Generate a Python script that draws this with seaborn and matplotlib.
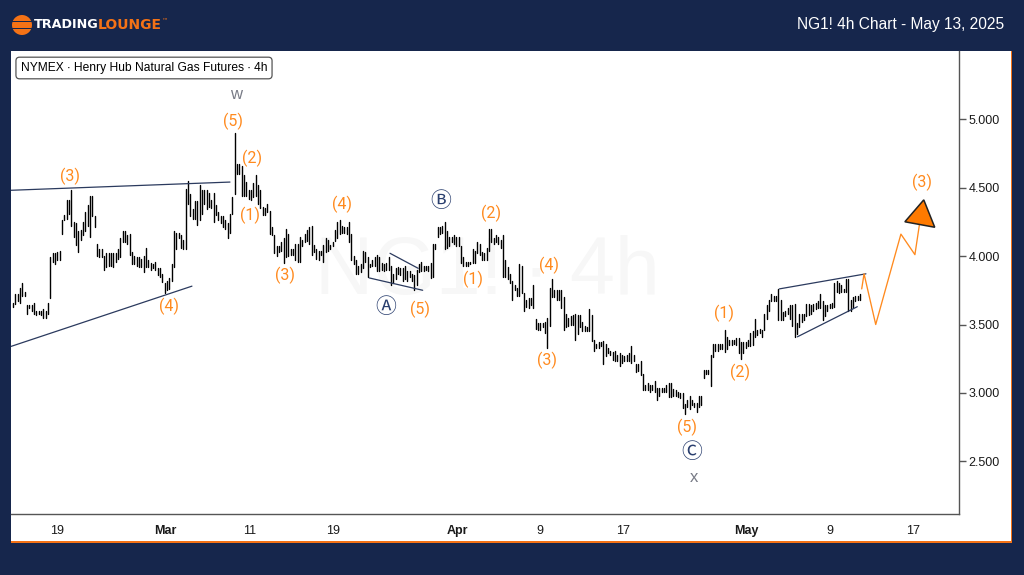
import seaborn as sns
import pandas as pd
import matplotlib
matplotlib.use('Agg')
import matplotlib.pyplot as plt
from matplotlib.patches import Rectangle, Circle

# 4h bars
bar_highs = [
    3.66, 3.72, 3.72, 3.77, 3.80, 3.74, 3.64, 3.64, 3.64, 3.66, 3.60, 3.60, 3.60, 3.61, 3.60, 3.66,
    3.99, 4.02, 4.02, 4.03, 4.04, 4.26, 4.30, 4.41, 4.41, 4.48, 4.25, 4.24, 4.18, 4.19, 4.25, 4.32,
    4.37, 4.44, 4.44, 4.29, 4.09, 4.05, 4.05, 4.00, 4.02, 4.02, 4.02, 4.02, 4.02, 4.05, 4.13, 4.18,
    4.18, 4.15, 4.16, 4.03, 4.00, 3.99, 3.99, 3.98, 4.00, 4.06, 3.97, 3.95, 3.94, 3.96,
    3.91, 3.91, 3.87, 3.80, 3.82, 3.84, 3.94, 4.18, 4.17, 4.17, 4.15, 4.12, 4.49, 4.55, 4.45, 4.34,
    4.40, 4.40, 4.52, 4.48, 4.48, 4.48, 4.46, 4.41, 4.46, 4.37, 4.32, 4.29, 4.29, 4.26, 4.24, 4.31, 4.43,
    4.90, 4.67, 4.67, 4.66, 4.59, 4.54, 4.48, 4.48, 4.53, 4.59, 4.52, 4.48, 4.36, 4.35, 4.38, 4.33,
    4.21, 4.15, 4.07, 4.07, 4.10, 4.13, 4.20, 4.16, 4.05, 4.05, 4.09, 4.09, 4.14, 4.12, 4.16, 4.19,
    4.21, 4.22, 4.08, 4.05, 4.04, 4.04, 4.08, 4.13, 4.12, 4.08, 4.10, 4.19, 4.25, 4.26, 4.22, 4.21,
    4.21, 4.25, 4.16, 4.00, 3.97, 3.93, 3.94, 4.04, 4.03, 3.99, 3.94, 3.97, 3.99, 4.01, 3.99, 3.95,
    3.94, 3.95, 3.99, 3.93, 3.87, 3.91, 3.92, 3.91, 3.91, 3.93, 3.89, 3.89, 3.87, 3.86, 3.90, 3.94, 3.96,
    3.93, 3.93, 3.93, 3.95, 4.09, 4.09, 4.21, 4.21, 4.22, 4.25,
    4.18, 4.14, 4.14, 4.15, 4.14, 4.14, 4.07, 3.99, 3.96, 3.96, 3.96, 4.05, 4.04, 4.10, 4.09, 4.03,
    4.02, 4.06, 4.20, 4.20, 4.13, 4.15, 4.14, 4.12, 4.15, 3.97, 3.92, 3.87, 3.82, 3.79, 3.77, 3.94, 3.93,
    3.73, 3.68, 3.69, 3.69, 3.79, 3.54, 3.51, 3.51, 3.51, 3.52, 3.55, 3.77, 3.83, 3.75, 3.75, 3.75,
    3.75, 3.70, 3.58, 3.55, 3.56, 3.57, 3.58, 3.57, 3.57, 3.52, 3.49, 3.48, 3.61, 3.57, 3.39, 3.36,
    3.37, 3.37, 3.38, 3.36, 3.33, 3.31, 3.30, 3.31, 3.28, 3.29, 3.28, 3.27, 3.28, 3.29, 3.34, 3.28,
    3.21, 3.21, 3.23, 3.14,
    3.06, 3.07, 3.06, 3.06, 3.09, 3.04, 3.04, 3.04, 3.04, 3.06, 3.07, 3.07, 3.03, 3.02, 3.01, 3.00,
    3.00, 2.92, 2.95, 2.98, 2.95, 2.93, 2.93, 2.98, 2.98, 3.17, 3.17, 3.17, 3.28, 3.36, 3.36, 3.36,
    3.36, 3.36, 3.46, 3.41, 3.39, 3.39, 3.39, 3.40, 3.40, 3.37, 3.37, 3.37, 3.39, 3.44, 3.45, 3.54,
    3.46, 3.47, 3.46,
    3.58, 3.64, 3.68, 3.72, 3.71, 3.71, 3.76, 3.68, 3.59, 3.60, 3.62, 3.64, 3.64, 3.65, 3.51, 3.58,
    3.58, 3.58, 3.65, 3.65, 3.64, 3.65, 3.66, 3.67, 3.72, 3.67, 3.64, 3.64, 3.65, 3.66, 3.80, 3.82,
    3.80, 3.79, 3.76, 3.83, 3.83, 3.68, 3.70, 3.71, 3.71, 3.72,
]
bar_lows = [
    3.63, 3.65, 3.67, 3.66, 3.71, 3.71, 3.58, 3.62, 3.60, 3.58, 3.57, 3.58, 3.57, 3.55, 3.55, 3.58,
    3.69, 3.96, 3.94, 3.97, 3.97, 4.16, 4.26, 4.27, 4.31, 4.22, 4.14, 4.08, 4.03, 4.12, 4.15, 4.18,
    4.22, 4.14, 4.29, 4.21, 4.00, 3.99, 3.99, 3.90, 3.92, 3.93, 3.93, 3.92, 3.96, 3.98, 3.99, 4.10,
    4.10, 4.09, 4.01, 3.94, 3.94, 3.93, 3.92, 3.92, 3.88, 3.92, 3.92, 3.90, 3.91, 3.90,
    3.86, 3.85, 3.81, 3.73, 3.75, 3.76, 3.82, 3.92, 4.05, 4.13, 4.06, 4.05, 4.05, 4.38, 4.29, 4.27,
    4.27, 4.23, 4.26, 4.31, 4.38, 4.34, 4.36, 4.35, 4.25, 4.30, 4.26, 4.24, 4.21, 4.20, 4.13, 4.17, 4.31,
    4.45, 4.60, 4.60, 4.44, 4.44, 4.44, 4.42, 4.41, 4.43, 4.44, 4.38, 4.35, 4.30, 4.30, 4.32, 4.16,
    4.15, 4.02, 4.00, 4.03, 4.04, 3.95, 3.99, 4.00, 4.01, 4.01, 3.97, 3.96, 3.96, 4.07, 4.10, 4.11,
    4.09, 4.01, 4.03, 3.98, 3.97, 4.01, 3.96, 4.03, 4.04, 4.05, 4.07, 4.11, 4.13, 4.16, 4.17, 4.17,
    4.16, 4.10, 3.97, 3.94, 3.87, 3.87, 3.88, 3.91, 3.96, 3.85, 3.92, 3.93, 3.93, 3.89, 3.89, 3.90,
    3.89, 3.90, 3.90, 3.79, 3.80, 3.83, 3.87, 3.86, 3.82, 3.83, 3.82, 3.85, 3.82, 3.75, 3.79, 3.88, 3.89,
    3.89, 3.90, 3.89, 3.84, 3.85, 4.05, 4.14, 4.16, 4.17, 4.05,
    4.06, 4.07, 4.10, 4.09, 4.07, 4.07, 3.95, 3.93, 3.93, 3.93, 3.94, 3.95, 3.95, 4.02, 4.01, 3.97,
    3.97, 3.97, 4.04, 4.10, 4.09, 4.10, 4.09, 4.06, 3.85, 3.85, 3.83, 3.80, 3.68, 3.75, 3.71, 3.71, 3.73,
    3.60, 3.63, 3.62, 3.64, 3.62, 3.47, 3.46, 3.46, 3.48, 3.44, 3.33, 3.49, 3.70, 3.70, 3.68, 3.68,
    3.62, 3.46, 3.48, 3.49, 3.50, 3.50, 3.39, 3.43, 3.48, 3.45, 3.45, 3.45, 3.45, 3.38, 3.31, 3.33,
    3.33, 3.34, 3.21, 3.27, 3.29, 3.28, 3.24, 3.23, 3.23, 3.20, 3.22, 3.23, 3.23, 3.23, 3.22, 3.23,
    3.15, 3.16, 3.13, 3.02,
    3.02, 3.02, 3.01, 3.02, 3.01, 2.95, 2.98, 3.01, 3.01, 3.01, 2.97, 2.97, 2.98, 2.98, 2.97, 2.96,
    2.89, 2.85, 2.90, 2.88, 2.91, 2.90, 2.86, 2.90, 2.91, 3.11, 3.14, 3.14, 3.05, 3.26, 3.31, 3.31,
    3.32, 3.32, 3.30, 3.32, 3.35, 3.35, 3.36, 3.35, 3.29, 3.25, 3.29, 3.33, 3.34, 3.34, 3.35, 3.41,
    3.42, 3.44, 3.41,
    3.46, 3.54, 3.60, 3.67, 3.67, 3.67, 3.53, 3.53, 3.53, 3.56, 3.58, 3.54, 3.49, 3.41, 3.43, 3.48,
    3.52, 3.53, 3.56, 3.57, 3.58, 3.60, 3.61, 3.62, 3.62, 3.53, 3.56, 3.60, 3.62, 3.62, 3.63, 3.74,
    3.73, 3.74, 3.74, 3.74, 3.60, 3.60, 3.63, 3.67, 3.68, 3.68,
]

y_ticks = [2.5, 3.0, 3.5, 4.0, 4.5, 5.0]
x_ticks = [18.9, 65.2, 101.6, 137.2, 190.3, 225.9, 261.5, 314.2, 350.2, 385.8]
x_labels = ['19', 'Mar', '11', '19', 'Apr', '9', '17', 'May', '9', '17']

# wave counts: text, bar, price
orange_labels = [
    ('(5)', 94.3, 4.98), ('(3)', 24.4, 4.58), ('(2)', 102.4, 4.71), ('(1)', 101.6, 4.30),
    ('(3)', 116.6, 3.86), ('(4)', 141, 4.38), ('(4)', 66.9, 3.63), ('(5)', 174.5, 3.61),
    ('(1)', 197.2, 3.83), ('(2)', 204.9, 4.31), ('(4)', 229.8, 3.93), ('(3)', 228.9, 3.24),
    ('(5)', 288.9, 2.75), ('(1)', 304.8, 3.58), ('(2)', 311.6, 3.15), ('(3)', 389.6, 4.54),
]
navy_labels = [('\u24b7', 183.5, 4.40), ('\u24b6', 159.9, 3.63), ('\u24b8', 291, 2.57)]
grey_labels = [('w', 95.6, 5.18), ('x', 291.9, 2.38)]

trend_lines = [
    ([-0.86, 93], [4.48, 4.54]),
    ([-0.86, 76.7], [3.34, 3.78]),
    ([161.6, 173.7], [4.02, 3.91]),
    ([152.7, 175.6], [3.84, 3.75]),
    ([328.5, 365.6], [3.76, 3.87]),
    ([336.2, 361.9], [3.41, 3.63]),
]
path_bars = [363.8, 364.8, 369.8, 380.6, 386.6, 388.5]
path_prices = [3.76, 3.87, 3.50, 4.16, 4.01, 4.225]
arrow_bars = [390.4, 382.3, 395.1]
arrow_prices = [4.41, 4.25, 4.21]

NAVY = '#16264c'
ORANGE = '#ff8a1e'
LINE = '#2b3a5e'
W, H = 1024, 575

sns.set_theme(style='white', rc={'axes.linewidth': 1.0, 'xtick.bottom': False, 'ytick.right': True})
plt.rcParams['font.family'] = ['Liberation Sans', 'DejaVu Sans']

fig = plt.figure(figsize=(W / 100, H / 100), dpi=100, facecolor=NAVY)
fig.patches.append(Rectangle((11 / W, 1 - 543 / H), 1001 / W, 492 / H, transform=fig.transFigure,
                             fc='white', ec='none', zorder=-2))
fig.patches.append(Rectangle((11 / W, 1 - 543 / H), 1001 / W, 2 / H, transform=fig.transFigure,
                             fc='#f47216', ec='none', zorder=-1))
fig.patches.append(Rectangle((1011 / W, 1 - 543 / H), 1 / W, 492 / H, transform=fig.transFigure,
                             fc='#f47216', ec='none', zorder=-1))

ax = fig.add_axes([11 / W, 1 - 513.5 / H, 948 / W, 462.5 / H], facecolor='none')

df = pd.DataFrame({
    'bar': list(range(len(bar_highs))) * 2,
    'price': bar_highs + bar_lows,
})
sns.lineplot(data=df, x='bar', y='price', units='bar', estimator=None, color='black',
             lw=1.0, legend=False, ax=ax, zorder=3)

for xs, ys in trend_lines:
    sns.lineplot(x=xs, y=ys, color=LINE, lw=0.9, estimator=None, sort=False, ax=ax, zorder=4)

sns.lineplot(x=path_bars, y=path_prices, color=ORANGE, lw=0.95, estimator=None, sort=False, ax=ax, zorder=4)
ax.fill(arrow_bars, arrow_prices, fc='#ff7a00', ec='#222222', lw=1.1, zorder=5)

for txt, xb, yp in orange_labels:
    ax.text(xb, yp, txt, color=ORANGE, fontsize=11.5, ha='center', va='center',
            family=['Roboto', 'DejaVu Sans'], zorder=6)
for txt, xb, yp in navy_labels:
    ax.text(xb, yp, txt, color='#2a3f6f', fontsize=15, ha='center', va='center',
            family=['Noto Sans CJK JP', 'DejaVu Sans'], zorder=6)
for txt, xb, yp in grey_labels:
    ax.text(xb, yp, txt, color='#787b86', fontsize=12, ha='center', va='center', zorder=6)

ax.text(0.502, 0.52, 'NG1! \u2219 4h', transform=ax.transAxes, color='#f7f7f7', fontsize=58,
        ha='center', va='center', family=['Liberation Sans', 'DejaVu Sans'], zorder=1)

ax.set_xlim(-0.86, 405.5)
ax.set_ylim(2.12, 5.497)
ax.set_xlabel('')
ax.set_ylabel('')
ax.yaxis.tick_right()
ax.set_yticks(y_ticks)
ax.set_yticklabels([f'{v:.3f}' for v in y_ticks])
ax.set_xticks(x_ticks)
ax.set_xticklabels(x_labels)
ax.tick_params(axis='y', length=5, width=1, color='#555555', labelsize=9, labelcolor='#1a1a1a', pad=2)
ax.tick_params(axis='x', length=0, labelsize=9, labelcolor='#1a1a1a', pad=8)
for lab in ax.get_xticklabels():
    if lab.get_text() in ('Mar', 'Apr', 'May'):
        lab.set_fontweight('bold')
for side in ('top', 'left'):
    ax.spines[side].set_visible(False)
for side in ('right', 'bottom'):
    ax.spines[side].set_color('#555555')

fig.text(144 / W, 1 - 68 / H, 'NYMEX \u2219 Henry Hub Natural Gas Futures \u2219 4h', color='black',
         fontsize=8.65, ha='center', va='center',
         bbox=dict(boxstyle='round,pad=0.4,rounding_size=0.3', fc='white', ec='#555555', lw=0.9))

# header: logo and chart name
fig.patches.append(Circle((22, H - 25), 10, transform=None, fc='#f47216', ec='none'))
for dy in (-3.5, 3.5):
    fig.patches.append(Rectangle((12, H - 25 + dy - 0.9), 20, 1.8, transform=None, fc=NAVY, ec='none'))
fig.text(34 / W, 1 - 25 / H, 'TRADING', color='white', fontsize=9.2, fontweight='bold',
         ha='left', va='center', family='DejaVu Sans')
fig.text(97.5 / W, 1 - 25 / H, 'LOUNGE', color='#f47216', fontsize=10, fontweight='bold',
         ha='left', va='center', family='DejaVu Sans')
fig.text(161.5 / W, 1 - 21.5 / H, '\u2122', color='#f47216', fontsize=4.5, ha='left', va='center',
         family='DejaVu Sans')
fig.text(1004 / W, 1 - 25 / H, 'NG1! 4h Chart - May 13, 2025', color='white', fontsize=11.2,
         ha='right', va='center')

fig.savefig('out.png', dpi=100, facecolor=NAVY)
